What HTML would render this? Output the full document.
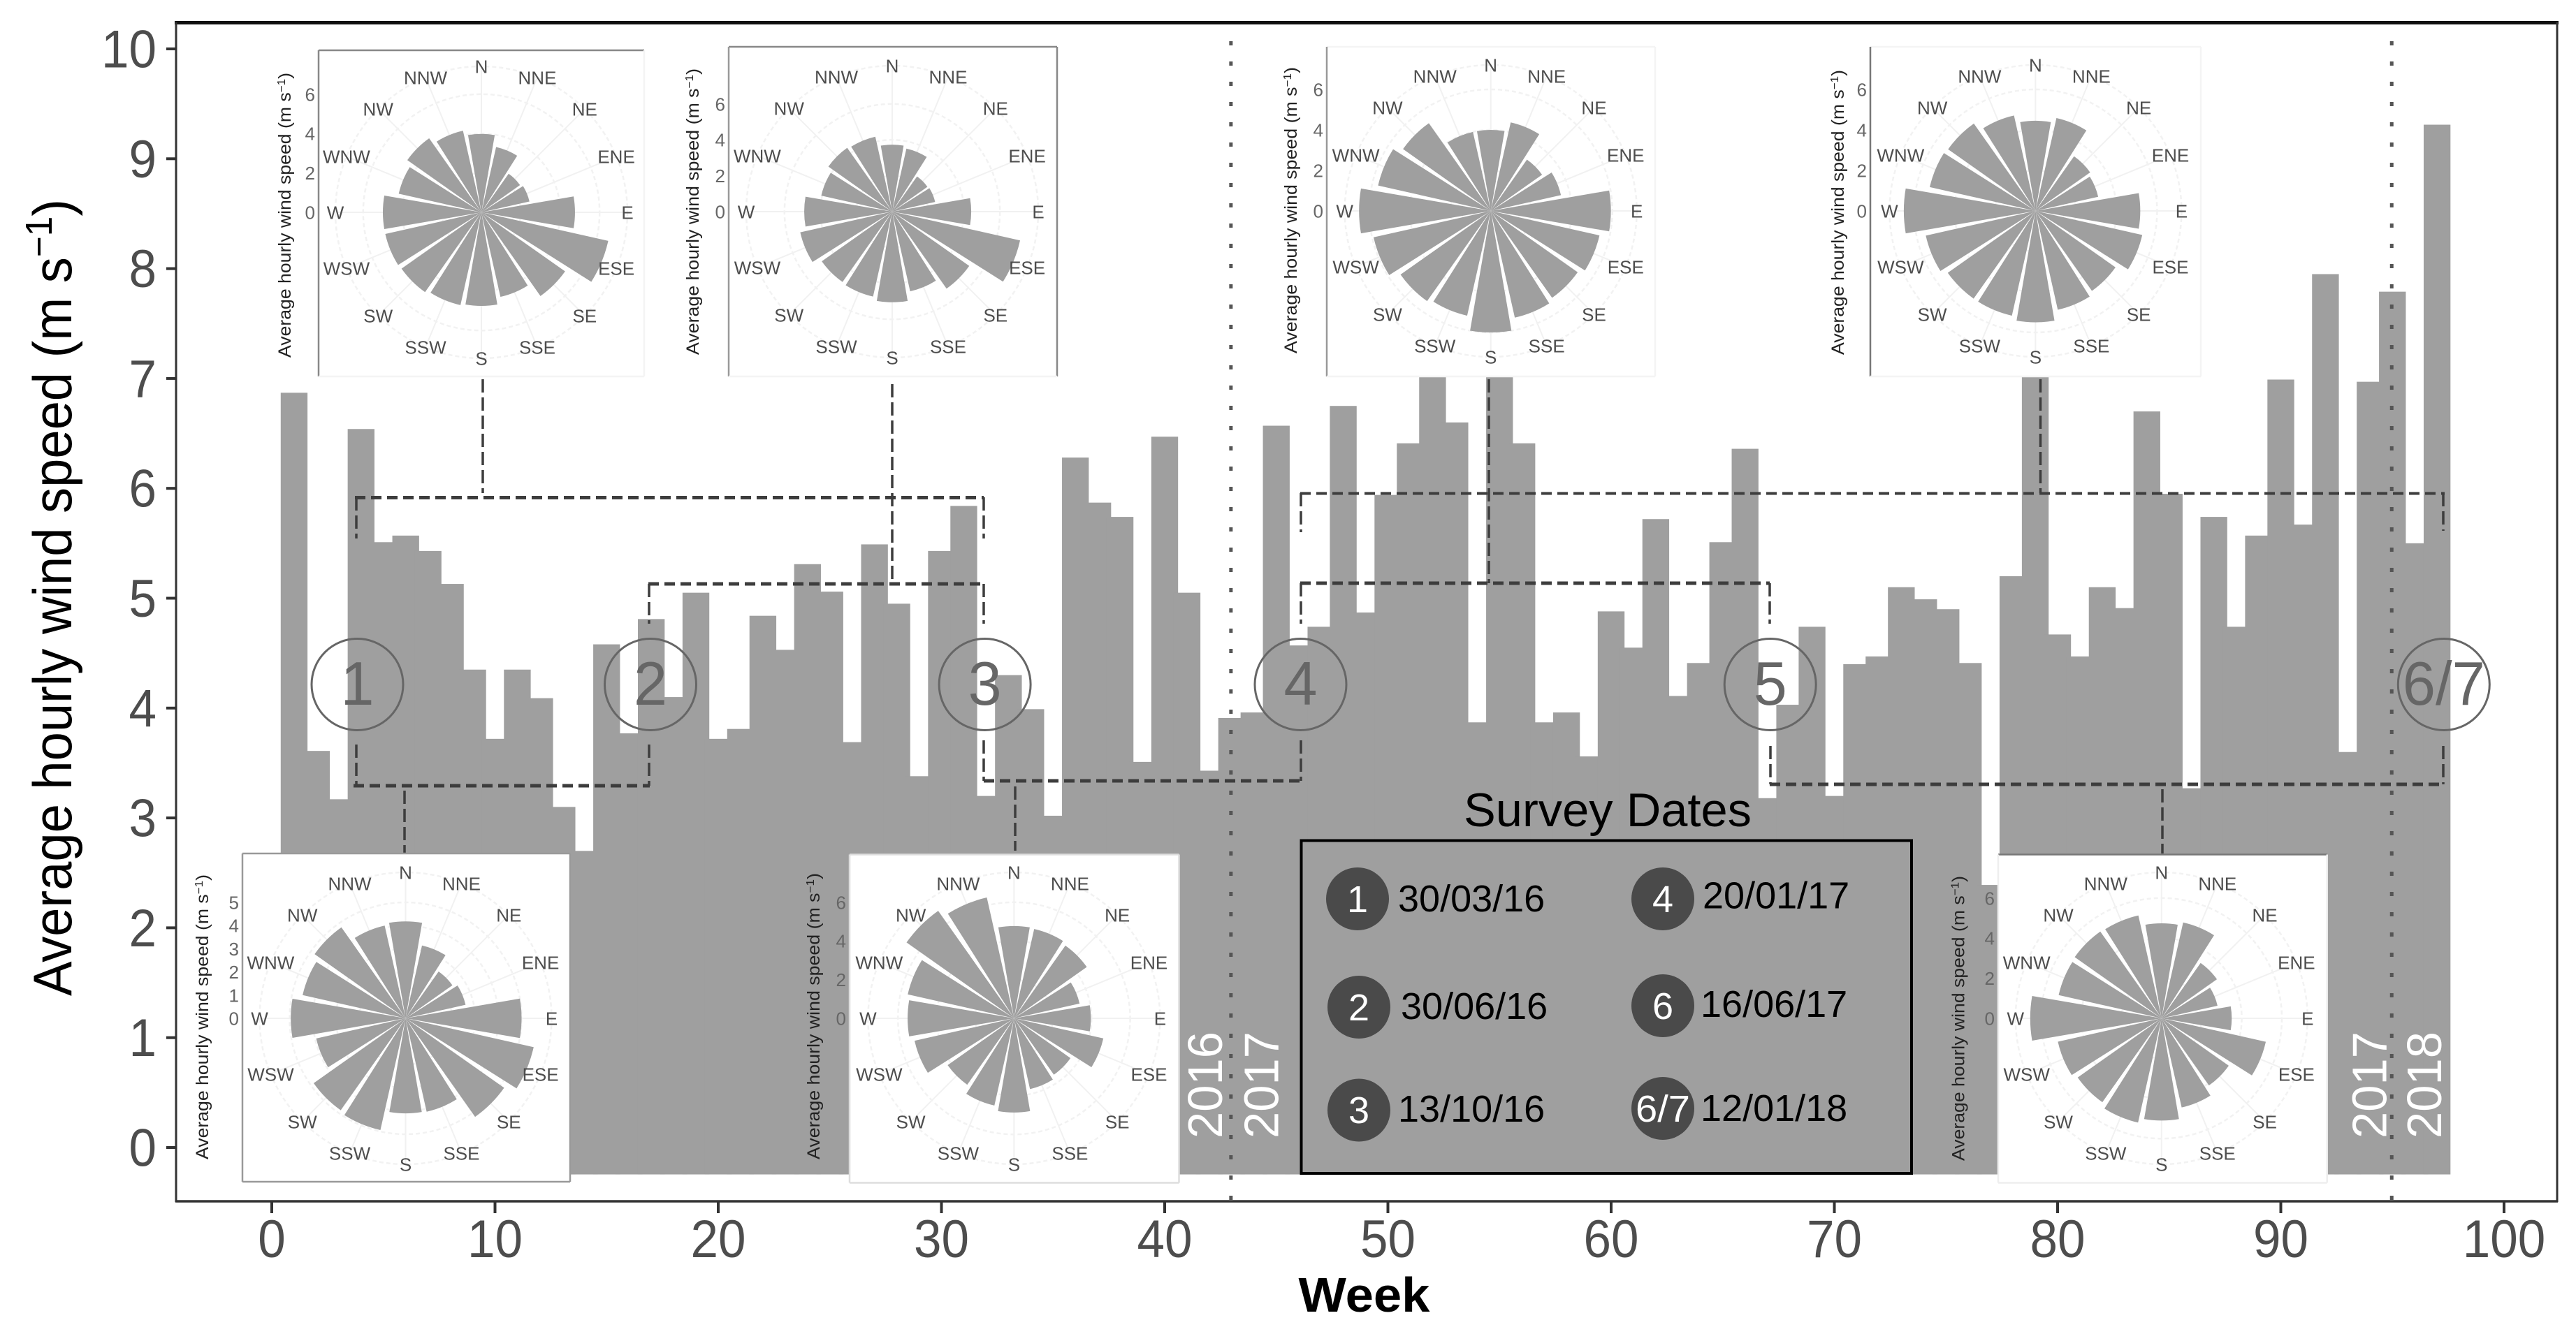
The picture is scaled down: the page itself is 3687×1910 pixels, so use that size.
<!DOCTYPE html>
<html lang="en">
<head>
<meta charset="utf-8">
<title>Average hourly wind speed by week</title>
<style>
html,body{margin:0;padding:0;background:#fff;width:3687px;height:1910px;overflow:hidden}
svg{display:block;font-family:"Liberation Sans",sans-serif}
</style>
</head>
<body>
<svg id="chart" xmlns="http://www.w3.org/2000/svg" width="3687" height="1910" viewBox="0 0 3687 1910">
  <rect x="0" y="0" width="3687" height="1910" fill="#fff"/>
  <g id="bars"></g>
  <g id="connectors"></g>
  <g id="year-lines"></g>
  <g id="insets"></g>
  <g id="axes"></g>
  <g id="markers"></g>
  <g font-size="70" fill="#fff">
    <text transform="translate(1749,1630) rotate(-90)" textLength="153" lengthAdjust="spacingAndGlyphs">2016</text>
    <text transform="translate(1829.5,1630) rotate(-90)" textLength="153" lengthAdjust="spacingAndGlyphs">2017</text>
    <text transform="translate(3415.4,1630) rotate(-90)" textLength="153" lengthAdjust="spacingAndGlyphs">2017</text>
    <text transform="translate(3494,1630) rotate(-90)" textLength="153" lengthAdjust="spacingAndGlyphs">2018</text>
  </g>
  <g id="legend">
    <text x="2095" y="1183" font-size="68" fill="#000" textLength="412" lengthAdjust="spacingAndGlyphs">Survey Dates</text>
    <rect x="1862.5" y="1203.5" width="873.5" height="476.5" fill="#9f9f9f" stroke="#000" stroke-width="4"/>
    <g font-size="54">
      <g><circle cx="1943" cy="1287" r="45" fill="#4a4a4a"/><text x="1943" y="1306" text-anchor="middle" fill="#fff">1</text><text x="2001" y="1305" fill="#000">30/03/16</text></g>
      <g><circle cx="1945" cy="1442" r="45" fill="#4a4a4a"/><text x="1945" y="1461" text-anchor="middle" fill="#fff">2</text><text x="2005" y="1459" fill="#000">30/06/16</text></g>
      <g><circle cx="1945" cy="1589.5" r="45" fill="#4a4a4a"/><text x="1945" y="1608" text-anchor="middle" fill="#fff">3</text><text x="2001" y="1606" fill="#000">13/10/16</text></g>
      <g><circle cx="2380" cy="1287" r="45" fill="#4a4a4a"/><text x="2380" y="1306" text-anchor="middle" fill="#fff">4</text><text x="2437" y="1300.5" fill="#000">20/01/17</text></g>
      <g><circle cx="2380" cy="1440" r="45" fill="#4a4a4a"/><text x="2380" y="1459" text-anchor="middle" fill="#fff">6</text><text x="2434" y="1456" fill="#000">16/06/17</text></g>
      <g><circle cx="2380" cy="1587" r="45" fill="#4a4a4a"/><text x="2380" y="1606" text-anchor="middle" fill="#fff" textLength="78" lengthAdjust="spacingAndGlyphs">6/7</text><text x="2434" y="1605" fill="#000">12/01/18</text></g>
    </g>
  </g>
</svg>
<script>
// ---- chart data ----
const windSpeedByWeek = [
  6.87,3.61,3.17,6.54,5.51,5.57,5.43,5.13,4.35,3.72,
  4.35,4.09,3.10,2.70,4.58,3.77,4.81,4.10,5.05,3.72,
  3.81,4.84,4.53,5.31,5.06,3.69,5.49,4.95,3.38,5.43,
  5.84,3.20,4.30,3.99,3.02,6.28,5.87,5.74,3.51,6.47,
  5.05,3.43,3.91,3.96,6.57,4.57,4.74,6.75,4.87,5.94,
  6.41,7.20,6.60,3.87,7.40,6.41,3.87,3.96,3.56,4.88,
  4.55,5.72,4.11,4.41,5.51,6.36,3.18,4.03,4.74,3.20,
  4.40,4.47,5.10,4.99,4.90,4.41,2.39,5.20,7.20,4.67,
  4.47,5.10,4.91,6.70,5.95,3.27,5.74,4.74,5.57,6.99,
  5.67,7.95,3.60,6.97,7.79,5.50,9.31
];
const xTickLabels = [0,10,20,30,40,50,60,70,80,90,100];
const yTickLabels = [0,1,2,3,4,5,6,7,8,9,10];
const yearBoundaryWeeks = [43,95];
const barBaseValue = -0.245;
const barWidthWeeks = 1.2;

const compassLabels = ["N","NNE","NE","ENE","E","ESE","SE","SSE","S","SSW","SW","WSW","W","WNW","NW","NNW"];
const roseSurvey1Top   = [3.98,3.40,2.40,2.50,4.75,6.60,5.20,4.40,4.75,4.83,4.96,5.00,5.00,4.30,4.60,4.25];
const roseSurvey2Top   = [3.73,3.60,2.40,2.45,4.40,7.30,5.25,4.55,5.05,4.85,4.80,5.25,4.90,4.05,4.35,4.28];
const roseSurvey3Top   = [4.00,4.48,3.10,3.55,5.93,5.50,5.25,5.40,6.00,5.30,5.45,5.93,6.50,5.70,5.30,4.00];
const roseSurvey4Top   = [4.45,4.70,3.30,3.17,5.17,5.40,4.83,5.00,5.50,5.30,5.30,5.55,6.50,5.35,5.28,4.83];
const roseSurvey1Bottom= [4.18,3.22,2.47,2.65,5.00,5.66,5.20,4.13,4.10,4.94,4.85,3.95,4.95,4.55,4.80,4.10];
const roseSurvey2Bottom= [4.77,4.73,4.60,3.47,3.97,4.73,3.57,3.75,4.87,4.62,4.20,5.27,5.50,5.63,6.80,6.40];
const roseSurvey3Bottom= [4.74,4.90,3.38,2.86,3.50,5.33,4.10,4.56,5.10,5.33,5.12,5.30,6.55,5.26,5.30,5.26];
const roseTicksEven = [0,2,4,6];
const roseTicksUnit = [0,1,2,3,4,5];

// ---- scales ----
function xScale(week){ return 389 + 31.95*week; }
function yScale(v){ return 1643 - 157.3*v; }

const NS = "http://www.w3.org/2000/svg";
function mk(parent, tag, attrs, txt){
  const el = document.createElementNS(NS, tag);
  for (const k in attrs) el.setAttribute(k, attrs[k]);
  if (txt !== undefined) el.textContent = txt;
  parent.appendChild(el);
  return el;
}
const GREY = "#9f9f9f";

// ---- bars ----
const barsG = document.getElementById("bars");
windSpeedByWeek.forEach(function(v,i){
  const week = i+1;
  const x0 = xScale(week - barWidthWeeks/2), x1 = xScale(week + barWidthWeeks/2);
  const r = mk(barsG,"rect",{x:x0,y:yScale(v),width:x1-x0,height:yScale(barBaseValue)-yScale(v),fill:GREY});
  
  
});

// ---- connectors ----
const connG = document.getElementById("connectors");
function hLine(name,x1,x2,y,w){
  const l = mk(connG,"line",{x1:x1,x2:x2,y1:y,y2:y,stroke:"#3d3d3d","stroke-width":w||5,"stroke-dasharray":"15 8"});
  
  
}
function vLine(name,x,y1,y2){
  const l = mk(connG,"line",{x1:x,x2:x,y1:y1,y2:y2,stroke:"#3d3d3d","stroke-width":3.5,"stroke-dasharray":"19 7"});
  
  
}
hLine("bracket-1-3-top",508,1408,712.5);
vLine("bracket-1-3-left",510,712,771);
vLine("bracket-1-3-right",1408,712,771);
vLine("connector-rose-1-top",691,543,706);
vLine("connector-rose-2-top",1277,550,836);
hLine("bracket-2-3-top",928,1408,836);
vLine("bracket-2-3-left",929,836,893);
vLine("bracket-2-3-right",1408,836,893);
hLine("bracket-1-2-bottom",506,930,1125);
vLine("bracket-1-2-left",510,1066,1125);
vLine("bracket-1-2-right",929,1066,1125);
vLine("connector-rose-1-bottom",579,1132,1222);
hLine("bracket-3-4-bottom",1408,1862,1118);
vLine("bracket-3-4-left",1408,1060,1118);
vLine("bracket-3-4-right",1862,1060,1118);
vLine("connector-rose-2-bottom",1453,1126,1218);
hLine("bracket-4-7-top",1861,3499,706.5,4);
vLine("bracket-4-7-left",1862,706,762);
vLine("bracket-4-7-right",3497,706,760);
hLine("bracket-4-5-top",1861,2533,835);
vLine("bracket-4-5-left",1862,835,893);
vLine("bracket-4-5-right",2533,835,893);
vLine("connector-rose-3-top",2131,543,835);
vLine("connector-rose-4-top",2920.5,543,706);
hLine("bracket-5-7-bottom",2533,3499,1123);
vLine("bracket-5-7-left",2534,1068,1123);
vLine("bracket-5-7-right",3497,1068,1123);
vLine("connector-rose-3-bottom",3095,1130,1222);

// ---- year divider lines ----
const yearG = document.getElementById("year-lines");
yearBoundaryWeeks.forEach(function(w){
  const l = mk(yearG,"line",{x1:xScale(w)-1,x2:xScale(w)-1,y1:59,y2:1720,stroke:"#555","stroke-width":5,"stroke-dasharray":"6 23"});
  
  
});

// ---- wind roses ----
const insetsG = document.getElementById("insets");
const HALF = 9.8*Math.PI/180, RING = 209;
function drawRose(name, values, ticks, o){
  const g = mk(insetsG,"g",{});
  
  
  mk(g,"rect",{x:o.l,y:o.t,width:o.r-o.l,height:o.b-o.t,fill:"#fff"});
  // frame
  const edges = {top:[o.l,o.t,o.r,o.t],left:[o.l,o.t,o.l,o.b],right:[o.r,o.t,o.r,o.b],bottom:[o.l,o.b,o.r,o.b]};
  Object.keys(edges).forEach(function(k){
    const col = (o.frame[k]) || "#f4f4f4", e = edges[k];
    mk(g,"line",{x1:e[0],y1:e[1],x2:e[2],y2:e[3],stroke:col,"stroke-width":2.5});
  });
  // grid
  compassLabels.forEach(function(_,i){
    const a = i*Math.PI/8;
    mk(g,"line",{x1:o.cx,y1:o.cy,x2:o.cx+RING*Math.sin(a),y2:o.cy-RING*Math.cos(a),stroke:"#f1f1f1","stroke-width":2});
  });
  ticks.concat([]).forEach(function(t){
    if (t>0) mk(g,"circle",{cx:o.cx,cy:o.cy,r:t*o.unit,fill:"none",stroke:"#f2f2f2","stroke-width":2.5,"stroke-dasharray":"6 4"});
  });
  mk(g,"circle",{cx:o.cx,cy:o.cy,r:RING,fill:"none",stroke:"#f2f2f2","stroke-width":2.5,"stroke-dasharray":"6 4"});
  // wedges
  values.forEach(function(v,i){
    const a = i*Math.PI/8, r = v*o.unit;
    const x0 = o.cx + r*Math.sin(a-HALF), y0 = o.cy - r*Math.cos(a-HALF);
    const x1 = o.cx + r*Math.sin(a+HALF), y1 = o.cy - r*Math.cos(a+HALF);
    const p = mk(g,"path",{d:"M"+o.cx+" "+o.cy+"L"+x0+" "+y0+"A"+r+" "+r+" 0 0 1 "+x1+" "+y1+"Z",fill:GREY});
    
    
  });
  // compass labels
  compassLabels.forEach(function(lab,i){
    const a = i*Math.PI/8;
    const t = mk(g,"text",{x:o.cx+209*Math.sin(a),y:o.cy-209*Math.cos(a)+9.5,"text-anchor":"middle","font-size":26,fill:"#4d4d4d"},lab);
    
    
  });
  // radial tick labels
  ticks.forEach(function(t){
    const tx = mk(g,"text",{x:o.l-5,y:o.cy-t*o.unit+9.5,"text-anchor":"end","font-size":26,fill:"#666"},String(t));
    
    
  });
  // rotated axis title
  const ty = mk(g,"text",{transform:"translate("+o.lx+","+o.ly0+") rotate(-90)","font-size":25,fill:"#222",textLength:o.ly0-o.ly1,lengthAdjust:"spacingAndGlyphs"});
  
  
  mk(ty,"tspan",{},"Average hourly wind speed (m s");
  mk(ty,"tspan",{dy:-8,"font-size":16},"\u22121");
  mk(ty,"tspan",{dy:8},")");
}
drawRose("rose-survey-1-top",roseSurvey1Top,roseTicksEven,{cx:689,cy:304,unit:28.2,l:456,t:72,r:922,b:539,lx:416,ly0:512,ly1:104,frame:{top:"#888",left:"#888"}});
drawRose("rose-survey-2-top",roseSurvey2Top,roseTicksEven,{cx:1277,cy:303,unit:25.7,l:1043,t:67,r:1513,b:539,lx:1000,ly0:508,ly1:98,frame:{top:"#888",left:"#999",right:"#888"}});
drawRose("rose-survey-3-top",roseSurvey3Top,roseTicksEven,{cx:2133.7,cy:302,unit:29,l:1899,t:67,r:2369,b:539,lx:1856,ly0:506,ly1:96,frame:{left:"#999"}});
drawRose("rose-survey-4-top",roseSurvey4Top,roseTicksEven,{cx:2913.4,cy:302,unit:29,l:2677,t:67,r:3150,b:539,lx:2639,ly0:508,ly1:100,frame:{left:"#777"}});
drawRose("rose-survey-1-bottom",roseSurvey1Bottom,roseTicksUnit,{cx:580.5,cy:1458,unit:33.2,l:347,t:1222,r:816,b:1692,lx:298,ly0:1660,ly1:1252,frame:{top:"#999",left:"#999",right:"#999",bottom:"#999"}});
drawRose("rose-survey-2-bottom",roseSurvey2Bottom,roseTicksEven,{cx:1451.4,cy:1458,unit:27.7,l:1216,t:1223.5,r:1687.5,b:1693.5,lx:1173,ly0:1660,ly1:1250,frame:{top:"#ddd",left:"#ddd",right:"#ddd",bottom:"#ddd"}});
drawRose("rose-survey-3-bottom",roseSurvey3Bottom,roseTicksEven,{cx:3093.8,cy:1458,unit:28.7,l:2860,t:1223.5,r:3330.7,b:1693.5,lx:2811.5,ly0:1662,ly1:1254,frame:{top:"#777",left:"#eee",right:"#eee",bottom:"#eee"}});

// ---- axes ----
const axesG = document.getElementById("axes");
const frameT = mk(axesG,"line",{x1:250,x2:3662,y1:32.5,y2:32.5,stroke:"#111","stroke-width":5});


const frameL = mk(axesG,"line",{x1:252,x2:252,y1:32,y2:1721,stroke:"#333","stroke-width":3});


const frameR = mk(axesG,"line",{x1:3660,x2:3660,y1:32,y2:1721,stroke:"#333","stroke-width":3});


const frameB = mk(axesG,"line",{x1:251,x2:3661,y1:1720,y2:1720,stroke:"#333","stroke-width":3.5});



yTickLabels.forEach(function(v){
  const y = yScale(v);
  const tick = mk(axesG,"line",{x1:238,x2:252,y1:y,y2:y,stroke:"#333","stroke-width":4});
  
  
  const s = String(v);
  const t = mk(axesG,"text",{x:224,y:y+26.5,"text-anchor":"end","font-size":76,fill:"#4d4d4d",textLength:s.length*39.5,lengthAdjust:"spacingAndGlyphs"},s);
  
  
});
xTickLabels.forEach(function(v){
  const x = xScale(v);
  const tick = mk(axesG,"line",{x1:x,x2:x,y1:1720,y2:1737,stroke:"#333","stroke-width":4});
  
  
  const s = String(v);
  const t = mk(axesG,"text",{x:x,y:1800,"text-anchor":"middle","font-size":76,fill:"#4d4d4d",textLength:s.length*39.5,lengthAdjust:"spacingAndGlyphs"},s);
  
  
});
const xTitle = mk(axesG,"text",{x:1858.5,y:1878,"font-size":70,"font-weight":"bold",fill:"#000",textLength:188,lengthAdjust:"spacingAndGlyphs"},"Week");


const yTitle = mk(axesG,"text",{transform:"translate(102,1426) rotate(-90)","font-size":78,fill:"#000",textLength:1141,lengthAdjust:"spacingAndGlyphs"});


mk(yTitle,"tspan",{},"Average hourly wind speed (m s");
mk(yTitle,"tspan",{dy:-28,"font-size":54},"\u22121");
mk(yTitle,"tspan",{dy:28},")");

// ---- survey markers ----
const markersG = document.getElementById("markers");
function marker(name,cx,label){
  const g = mk(markersG,"g",{});
  
  
  mk(g,"circle",{cx:cx,cy:980,r:65.5,fill:"none",stroke:"#666","stroke-width":3});
  mk(g,"text",{x:cx,y:1009,"text-anchor":"middle","font-size":88,fill:"#666",textLength:label.length===3?118:48,lengthAdjust:"spacingAndGlyphs"},label);
}
marker("survey-marker-1",511.5,"1");
marker("survey-marker-2",931,"2");
marker("survey-marker-3",1409.6,"3");
marker("survey-marker-4",1861.5,"4");
marker("survey-marker-5",2533.7,"5");
marker("survey-marker-6-7",3497.8,"6/7");
</script>
</body>
</html>
